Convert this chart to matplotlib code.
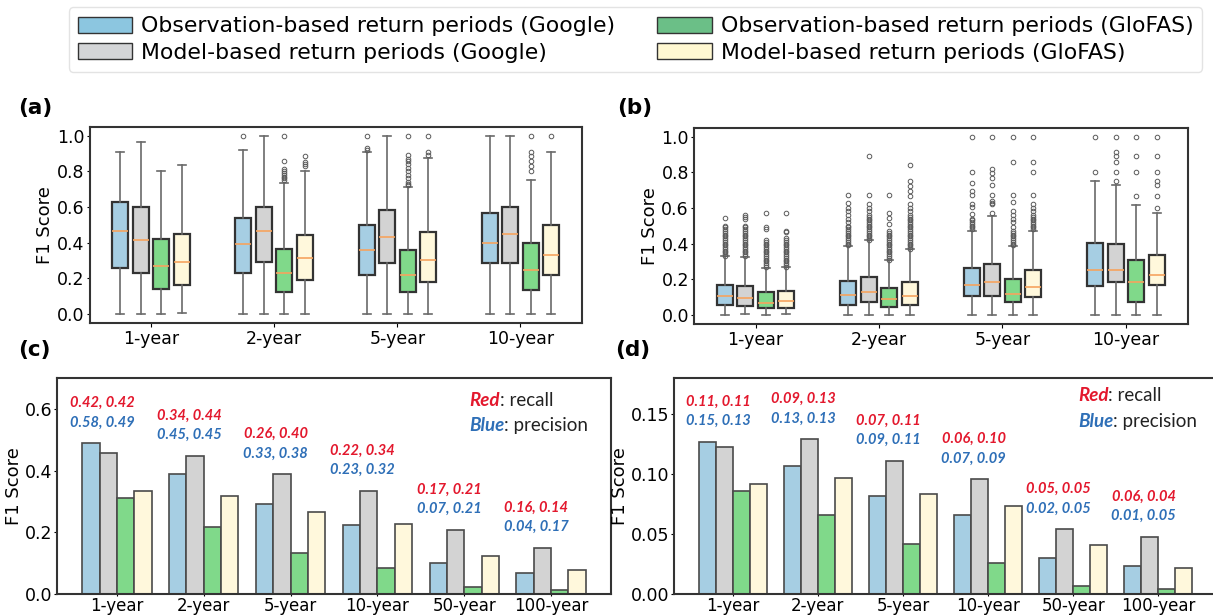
import numpy as np
import matplotlib.pyplot as plt
from matplotlib.patches import Patch

# categories
box_periods = ['1-year', '2-year', '5-year', '10-year']
bar_periods = ['1-year', '2-year', '5-year', '10-year', '50-year', '100-year']
series_names = ['Observation-based return periods (Google)',
                'Model-based return periods (Google)',
                'Observation-based return periods (GloFAS)',
                'Model-based return periods (GloFAS)']

# (a) box statistics, row = period, column = series
a_lo = [[0, 0, 0, 0.005], [0, 0, 0, 0], [0, 0, 0, 0], [0, 0, 0, 0]]
a_q1 = [[0.257, 0.231, 0.139, 0.163], [0.227, 0.293, 0.120, 0.188],
        [0.220, 0.283, 0.124, 0.178], [0.283, 0.283, 0.133, 0.218]]
a_med = [[0.463, 0.416, 0.268, 0.293], [0.394, 0.465, 0.231, 0.313],
         [0.360, 0.433, 0.220, 0.304], [0.398, 0.445, 0.248, 0.332]]
a_q3 = [[0.625, 0.600, 0.422, 0.445], [0.535, 0.597, 0.364, 0.441],
        [0.497, 0.580, 0.360, 0.458], [0.568, 0.597, 0.398, 0.497]]
a_hi = [[0.906, 0.962, 0.800, 0.833], [0.921, 1.0, 0.732, 0.800],
        [0.910, 1.0, 0.713, 0.874], [1.0, 1.0, 0.750, 0.910]]
a_fliers = [
    [[], [], [], []],
    [[1.0], [], [0.75, 0.76, 0.77, 0.78, 0.79, 0.80, 0.81, 0.857, 1.0], [0.83, 0.84, 0.85, 0.887]],
    [[0.92, 0.93, 1.0], [], [0.72, 0.73, 0.74, 0.76, 0.78, 0.80, 0.82, 0.84, 0.86, 0.87, 0.89, 1.0],
     [0.89, 0.91, 1.0]],
    [[], [], [0.80, 0.83, 0.86, 0.885, 0.91, 1.0], [1.0]],
]

# (b) box statistics
b_lo = [[0, 0.005, 0, 0.005], [0, 0, 0, 0], [0, 0, 0, 0], [0, 0, 0, 0]]
b_q1 = [[0.056, 0.051, 0.036, 0.038], [0.056, 0.070, 0.045, 0.053],
        [0.103, 0.103, 0.069, 0.099], [0.161, 0.183, 0.073, 0.166]]
b_med = [[0.103, 0.096, 0.066, 0.075], [0.111, 0.126, 0.090, 0.106],
         [0.167, 0.184, 0.116, 0.155], [0.249, 0.252, 0.185, 0.226]]
b_q3 = [[0.167, 0.163, 0.126, 0.131], [0.192, 0.212, 0.152, 0.184],
        [0.260, 0.285, 0.200, 0.251], [0.403, 0.400, 0.308, 0.336]]
b_hi = [[0.329, 0.325, 0.263, 0.267], [0.385, 0.417, 0.308, 0.370],
        [0.470, 0.556, 0.388, 0.470], [0.749, 0.727, 0.617, 0.570]]
b_fliers = [
    [[0.33, 0.34, 0.35, 0.36, 0.37, 0.38, 0.39, 0.40, 0.41, 0.42, 0.43, 0.44, 0.45, 0.46, 0.47,
      0.48, 0.49, 0.50, 0.541],
     [0.33, 0.34, 0.35, 0.36, 0.37, 0.38, 0.39, 0.40, 0.41, 0.42, 0.43, 0.44, 0.45, 0.46, 0.47,
      0.48, 0.49, 0.50, 0.535, 0.548, 0.56],
     [0.27, 0.28, 0.29, 0.30, 0.31, 0.32, 0.33, 0.34, 0.35, 0.36, 0.37, 0.38, 0.39, 0.40, 0.41,
      0.42, 0.483, 0.494, 0.573],
     [0.27, 0.28, 0.29, 0.30, 0.31, 0.32, 0.33, 0.34, 0.35, 0.36, 0.37, 0.38, 0.39, 0.40, 0.41,
      0.42, 0.43, 0.466, 0.473, 0.573]],
    [[0.39, 0.40, 0.41, 0.42, 0.43, 0.44, 0.45, 0.46, 0.47, 0.48, 0.49, 0.50, 0.52, 0.54, 0.56,
      0.58, 0.60, 0.63, 0.67],
     [0.42, 0.43, 0.44, 0.45, 0.46, 0.47, 0.48, 0.49, 0.50, 0.51, 0.52, 0.53, 0.54, 0.55, 0.56,
      0.58, 0.60, 0.62, 0.67, 0.89],
     [0.31, 0.32, 0.33, 0.34, 0.35, 0.36, 0.37, 0.38, 0.39, 0.40, 0.41, 0.42, 0.43, 0.44, 0.45,
      0.46, 0.47, 0.507, 0.545, 0.573, 0.67],
     [0.37, 0.38, 0.39, 0.40, 0.41, 0.42, 0.43, 0.44, 0.45, 0.46, 0.47, 0.48, 0.49, 0.50, 0.51,
      0.52, 0.53, 0.54, 0.55, 0.56, 0.58, 0.60, 0.62, 0.669, 0.697, 0.72, 0.749, 0.843]],
    [[0.48, 0.49, 0.50, 0.51, 0.52, 0.53, 0.54, 0.566, 0.605, 0.62, 0.67, 0.693, 0.738, 0.80, 1.0],
     [0.571, 0.62, 0.63, 0.64, 0.67, 0.727, 0.768, 0.794, 0.818, 1.0],
     [0.39, 0.40, 0.41, 0.42, 0.43, 0.44, 0.45, 0.46, 0.47, 0.49, 0.52, 0.54, 0.56, 0.58, 0.633,
      0.67, 0.858, 1.0],
     [0.48, 0.49, 0.50, 0.51, 0.52, 0.53, 0.54, 0.55, 0.56, 0.58, 0.60, 0.62, 0.67, 0.80, 0.858, 1.0]],
    [[0.80, 1.0],
     [0.75, 0.80, 0.856, 0.89, 0.912, 1.0],
     [0.667, 0.80, 0.89, 1.0],
     [0.60, 0.667, 0.727, 0.75, 0.80, 0.89, 1.0]],
]

# (c) mean F1 per period, one list per series
c_obs_google = [0.488, 0.388, 0.293, 0.225, 0.102, 0.069]
c_mod_google = [0.456, 0.447, 0.388, 0.335, 0.208, 0.150]
c_obs_glofas = [0.311, 0.216, 0.132, 0.083, 0.023, 0.012]
c_mod_glofas = [0.335, 0.319, 0.266, 0.228, 0.123, 0.077]
c_recall = ['0.42, 0.42', '0.34, 0.44', '0.26, 0.40', '0.22, 0.34', '0.17, 0.21', '0.16, 0.14']
c_precision = ['0.58, 0.49', '0.45, 0.45', '0.33, 0.38', '0.23, 0.32', '0.07, 0.21', '0.04, 0.17']

# (d)
d_obs_google = [0.1267, 0.107, 0.0814, 0.0658, 0.030, 0.0233]
d_mod_google = [0.1225, 0.129, 0.111, 0.0956, 0.054, 0.0475]
d_obs_glofas = [0.0861, 0.0658, 0.0414, 0.0261, 0.0064, 0.0039]
d_mod_glofas = [0.0914, 0.0964, 0.0836, 0.0736, 0.0408, 0.022]
d_recall = ['0.11, 0.11', '0.09, 0.13', '0.07, 0.11', '0.06, 0.10', '0.05, 0.05', '0.06, 0.04']
d_precision = ['0.15, 0.13', '0.13, 0.13', '0.09, 0.11', '0.07, 0.09', '0.02, 0.05', '0.01, 0.05']

colors = ['#a6cee3', '#d3d3d3', '#80d98a', '#fff8dc']
legend_colors = ['#8cc6e0', '#d4d5d7', '#6bbf87', '#fff8d2']
RED = '#e3182d'
BLUE = '#2e6fb7'
ANN_FONT = ['Lato', 'DejaVu Sans']
SANS = ['Lato', 'DejaVu Sans']

plt.rcParams['font.family'] = 'DejaVu Sans'
plt.rcParams['axes.linewidth'] = 1.5
plt.rcParams['axes.edgecolor'] = '#333333'

fig = plt.figure(figsize=(12.13, 6.15), dpi=100)

W, H = 1213, 615


def px_axes(left, top, right, bottom):
    return fig.add_axes([left / W, 1 - bottom / H, (right - left) / W, (bottom - top) / H])


def draw_boxes(ax, lo, q1, med, q3, hi, fliers, label_x):
    offsets = [-0.25, -0.0833, 0.0833, 0.25]
    for i in range(len(box_periods)):
        stats = []
        for j in range(4):
            stats.append(dict(whislo=lo[i][j], q1=q1[i][j], med=med[i][j], q3=q3[i][j],
                              whishi=hi[i][j], fliers=np.array(fliers[i][j])))
        parts = ax.bxp(stats, positions=[i + o for o in offsets], widths=0.13,
                       capwidths=0.065, patch_artist=True, manage_ticks=False,
                       boxprops=dict(edgecolor='#333333', linewidth=1.6),
                       whiskerprops=dict(color='#6a6a6a', linewidth=1.2),
                       capprops=dict(color='#6a6a6a', linewidth=1.2),
                       medianprops=dict(color='#f6a35e', linewidth=1.2),
                       flierprops=dict(marker='o', markersize=3.3, markerfacecolor='none',
                                       markeredgecolor='#5a5a5a', markeredgewidth=0.7))
        for patch, c in zip(parts['boxes'], colors):
            patch.set_facecolor(c)
    ax.set_xlim(-0.5, len(box_periods) - 0.5)
    ax.set_ylim(-0.05, 1.05)
    ax.set_xticks(range(len(box_periods)))
    ax.set_xticklabels(box_periods)
    ax.set_yticks([0, 0.2, 0.4, 0.6, 0.8, 1.0])
    ax.set_ylabel('F1 Score', fontsize=13)
    ax.yaxis.set_label_coords(label_x, 0.5)
    ax.tick_params(labelsize=12.5)
    ax.tick_params(axis='x', length=3, pad=2)
    ax.tick_params(axis='y', length=2, pad=1.5)


def draw_bars(ax, series, recall, precision, yticks, ylim, key_pos, label_x):
    x = np.arange(len(bar_periods))
    offsets = [-0.3, -0.1, 0.1, 0.3]
    for vals, o, c in zip(series, offsets, colors):
        ax.bar(x + o, vals, width=0.2, color=c, edgecolor='#4a4a4a', linewidth=1.2)
    tops = np.max(np.array(series), axis=0)
    for i in range(len(bar_periods)):
        ax.annotate(recall[i], xy=(x[i] - 0.17, tops[i]), xytext=(0, 29), textcoords='offset points',
                    ha='center', va='center', color=RED, fontsize=10.5, fontweight='bold',
                    style='italic', family=ANN_FONT)
        ax.annotate(precision[i], xy=(x[i] - 0.17, tops[i]), xytext=(0, 15), textcoords='offset points',
                    ha='center', va='center', color=BLUE, fontsize=10.5, fontweight='bold',
                    style='italic', family=ANN_FONT)
    kx, ky1, ky2 = key_pos
    t1 = ax.text(kx, ky1, 'Red', transform=ax.transAxes, color=RED, fontsize=13.5,
                 fontweight='bold', style='italic', va='center', family=SANS)
    ax.annotate(': recall', xy=(1, 0), xycoords=t1, va='bottom', ha='left',
                fontsize=13.5, family=SANS, color='#222222')
    t2 = ax.text(kx, ky2, 'Blue', transform=ax.transAxes, color=BLUE, fontsize=13.5,
                 fontweight='bold', style='italic', va='center', family=SANS)
    ax.annotate(': precision', xy=(1, 0), xycoords=t2, va='bottom', ha='left',
                fontsize=13.5, family=SANS, color='#222222')
    ax.set_xticks(x)
    ax.set_xticklabels(bar_periods)
    ax.set_ylim(*ylim)
    ax.set_yticks(yticks)
    ax.set_ylabel('F1 Score', fontsize=13)
    ax.yaxis.set_label_coords(label_x, 0.5)
    ax.tick_params(labelsize=12.5)
    ax.tick_params(axis='x', length=1.5, pad=0.5, labelsize=12)
    ax.tick_params(axis='y', length=2, pad=1.5)


ax_a = px_axes(89.5, 126.7, 582, 322.7)
draw_boxes(ax_a, a_lo, a_q1, a_med, a_q3, a_hi, a_fliers, -0.072)

ax_b = px_axes(693.8, 127.7, 1187.6, 323.7)
draw_boxes(ax_b, b_lo, b_q1, b_med, b_q3, b_hi, b_fliers, -0.0705)

ax_c = px_axes(57, 378, 611, 594)
draw_bars(ax_c, [c_obs_google, c_mod_google, c_obs_glofas, c_mod_glofas], c_recall, c_precision,
          [0, 0.2, 0.4, 0.6], (0, 0.70), (0.744, 0.898, 0.778), -0.061)
ax_c.set_yticklabels(['0.0', '0.2', '0.4', '0.6'])

ax_d = px_axes(674, 378, 1217, 594)
draw_bars(ax_d, [d_obs_google, d_mod_google, d_obs_glofas, d_mod_glofas], d_recall, d_precision,
          [0, 0.05, 0.10, 0.15], (0, 0.18), (0.744, 0.921, 0.80), -0.083)
ax_d.set_yticklabels(['0.00', '0.05', '0.10', '0.15'])

for lbl, (px, py) in zip(['(a)', '(b)', '(c)', '(d)'],
                         [(18, 108), (617, 108), (18, 350), (615, 350)]):
    fig.text(px / W, 1 - py / H, lbl, fontsize=15.5, fontweight='bold', ha='left', va='center')

handles = [Patch(facecolor=c, edgecolor='#333333', linewidth=1.0) for c in legend_colors]
fig.legend(handles, series_names, ncol=2, loc='center', bbox_to_anchor=(635.5 / W, 1 - 39.5 / H),
           fontsize=15.8, handlelength=2.5, handleheight=0.75, handletextpad=0.4,
           columnspacing=1.9, labelspacing=0.3, borderpad=0.4, frameon=True,
           edgecolor='#dddddd', fancybox=True)

fig.savefig('out.png', dpi=100)
